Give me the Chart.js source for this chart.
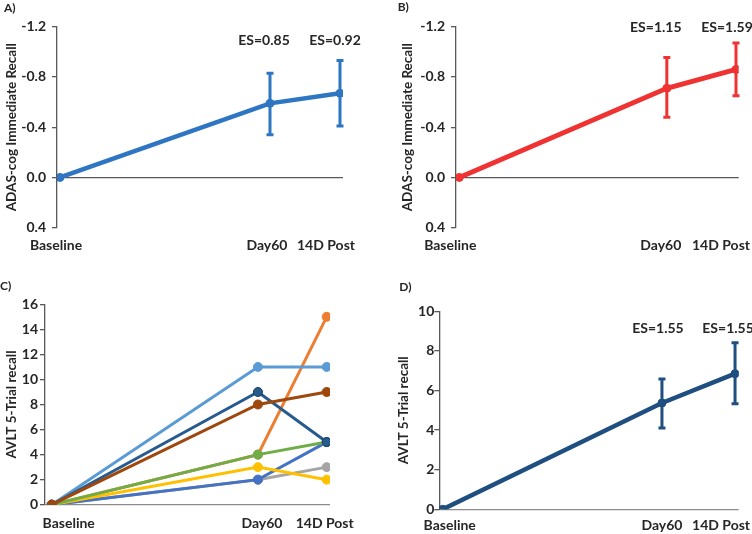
<!DOCTYPE html>
<html><head><meta charset="utf-8">
<script src="https://cdn.jsdelivr.net/npm/chart.js@4"></script>
<style>
html,body{margin:0;padding:0;background:#fff;width:752px;height:534px;overflow:hidden}
canvas{position:absolute}
</style></head><body>
<canvas id="pa" width="376" height="267" style="left:0;top:0"></canvas>
<canvas id="pb" width="376" height="267" style="left:376px;top:0"></canvas>
<canvas id="pc" width="376" height="267" style="left:0;top:267px"></canvas>
<canvas id="pd" width="376" height="267" style="left:376px;top:267px"></canvas>
<script>
// ---- data ----
const xLabels = ['Baseline', 'Day60', '14D Post'];
const xDays = [0, 60, 80];

const adasTicks = [-1.2, -0.8, -0.4, 0, 0.4];
const aMean = [0, -0.59, -0.67];
const aLow  = [0, -0.34, -0.41];
const aHigh = [0, -0.83, -0.93];
const aES   = ['', 'ES=0.85', 'ES=0.92'];

const bMean = [0, -0.71, -0.86];
const bLow  = [0, -0.48, -0.65];
const bHigh = [0, -0.955, -1.07];
const bES   = ['', 'ES=1.15', 'ES=1.59'];

const cTicks = [0, 2, 4, 6, 8, 10, 12, 14, 16];
const cLightBlue = [0, 11, 11];
const cOrange    = [0, 4, 15];
const cDarkBlue  = [0, 9, 5];
const cBrown     = [0, 8, 9];
const cGreen     = [0, 4, 5];
const cYellow    = [0, 3, 2];
const cGray      = [0, 2, 3];
const cBlue      = [0, 2, 5];

const dTicks = [0, 2, 4, 6, 8, 10];
const dMean = [0, 5.37, 6.85];
const dLow  = [0, 4.1, 5.33];
const dHigh = [0, 6.58, 8.41];
const dES   = ['', 'ES=1.55', 'ES=1.55'];

// ---- drawing ----
const FONT = 'Lato, "Open Sans", sans-serif';
const TXT = '#262626';

function pts(vals) { return vals.map((v, i) => ({x: xDays[i], y: v})); }

function overlay(cfg) {
  return {
    id: 'overlay',
    afterDatasetsDraw(chart) {
      if (!cfg.err) return;
      const ctx = chart.ctx, xs = chart.scales.x, ys = chart.scales.y;
      ctx.save();
      ctx.strokeStyle = cfg.err.color; ctx.lineWidth = 3; ctx.lineCap = 'butt';
      cfg.err.low.forEach((lo, i) => {
        const hi = cfg.err.high[i];
        if (lo === hi) return;
        const px = xs.getPixelForValue(xDays[i]);
        const y1 = ys.getPixelForValue(lo), y2 = ys.getPixelForValue(hi);
        ctx.beginPath(); ctx.moveTo(px, y1); ctx.lineTo(px, y2);
        ctx.moveTo(px - 3.5, y1); ctx.lineTo(px + 3.5, y1);
        ctx.moveTo(px - 3.5, y2); ctx.lineTo(px + 3.5, y2);
        ctx.stroke();
      });
      ctx.restore();
    },
    afterDraw(chart) {
      const ctx = chart.ctx, xs = chart.scales.x, ys = chart.scales.y;
      ctx.save();
      ctx.fillStyle = TXT;
      ctx.textBaseline = 'middle';
      ctx.textAlign = 'left';
      ctx.font = 'bold 12px ' + FONT;
      ctx.fillText(cfg.letter, cfg.letterX, cfg.letterY);
      ctx.font = 'bold 14px ' + FONT;
      ctx.textAlign = 'center';
      xLabels.forEach((lab, i) => {
        ctx.fillText(lab, xs.getPixelForValue(xDays[i]) + cfg.labelDx[i], cfg.labelY);
      });
      if (cfg.es) {
        cfg.es.texts.forEach((t, i) => {
          if (!t) return;
          ctx.fillText(t, xs.getPixelForValue(xDays[i]) + cfg.es.dx[i], ys.getPixelForValue(cfg.es.y));
        });
      }
      ctx.restore();
    }
  };
}

function makePanel(id, cfg) {
  new Chart(document.getElementById(id), {
    type: 'line',
    data: {
      datasets: cfg.series.map(s => ({
        data: pts(s.data),
        borderColor: s.color,
        backgroundColor: s.color,
        pointBorderColor: s.pointBorder || s.color,
        pointBackgroundColor: s.color,
        borderWidth: s.width,
        pointRadius: s.radius,
        pointBorderWidth: 1,
        tension: 0
      }))
    },
    options: {
      responsive: false,
      animation: false,
      events: [],
      layout: {padding: {left: 0, top: cfg.T, right: cfg.R, bottom: cfg.B}},
      plugins: {legend: {display: false}, tooltip: {enabled: false}},
      scales: {
        x: {type: 'linear', display: false, min: cfg.xMin, max: cfg.xMax},
        y: {
          type: 'linear',
          min: cfg.yMin, max: cfg.yMax,
          reverse: !!cfg.reverse,
          afterBuildTicks: sc => { sc.ticks = cfg.yTicks.map(v => ({value: v})); },
          afterFit: sc => { sc.width = cfg.L; },
          border: {display: true, color: '#595959', width: 1.3},
          grid: {
            drawOnChartArea: true,
            color: c => (c.tick && c.tick.value === 0) ? cfg.zeroColor : 'rgba(0,0,0,0)',
            lineWidth: 1.3,
            tickColor: '#595959',
            tickLength: 5
          },
          ticks: {
            color: TXT,
            padding: cfg.tickPad,
            font: {family: FONT, size: 14, weight: 'bold'},
            callback: v => cfg.fmt(v)
          },
          title: {
            display: true,
            text: cfg.yTitle,
            color: TXT,
            font: {family: FONT, size: 13.5, weight: 'bold'},
            padding: {top: cfg.titlePad, bottom: 0}
          }
        }
      }
    },
    plugins: [overlay(cfg)]
  });
}

const adasFmt = v => (Math.abs(v) < 1e-9 ? 0 : v).toFixed(1);
const intFmt = v => String(v);

makePanel('pa', {
  letter: 'A)', letterX: 4, letterY: 8,
  L: 57, T: 26.7, R: 33, B: 39.3, xMin: -0.857, xMax: 80.86,
  yMin: -1.2, yMax: 0.4, reverse: true, yTicks: adasTicks, fmt: adasFmt,
  yTitle: 'ADAS-cog Immediate Recall', titlePad: 4, tickPad: 6,
  zeroColor: '#595959',
  series: [{data: aMean, color: '#2E75C2', width: 4.5, radius: 4}],
  err: {low: aLow, high: aHigh, color: '#2E75C2'},
  es: {texts: aES, y: -1.09, dx: [0, -6, -5]},
  labelDx: [-4, -3, -14], labelY: 245
});

makePanel('pb', {
  letter: 'B)', letterX: 21.7, letterY: 7,
  L: 80, T: 26.7, R: 13.3, B: 39.3, xMin: -0.95, xMax: 80.78,
  yMin: -1.2, yMax: 0.4, reverse: true, yTicks: adasTicks, fmt: adasFmt,
  yTitle: 'ADAS-cog Immediate Recall', titlePad: 24, tickPad: 6,
  zeroColor: '#595959',
  series: [{data: bMean, color: '#EF3333', width: 5, radius: 4}],
  err: {low: bLow, high: bHigh, color: '#EF3333'},
  es: {texts: bES, y: -1.19, dx: [0, -11, -9]},
  labelDx: [-9, -6, -15], labelY: 245
});

makePanel('pc', {
  letter: 'C)', letterX: 0, letterY: 19,
  L: 45, T: 37.3, R: 46, B: 29.3, xMin: -1.95, xMax: 80.96,
  yMin: 0, yMax: 16, reverse: false, yTicks: cTicks, fmt: intFmt,
  yTitle: 'AVLT 5-Trial recall', titlePad: 4, tickPad: 2,
  zeroColor: '#8C8C8C',
  series: [
    {data: cBrown, color: '#9E480E', width: 3, radius: 4.5},
    {data: cDarkBlue, color: '#265B8E', width: 3, radius: 4.5, pointBorder: '#1C3A5C'},
    {data: cGreen, color: '#70AD47', width: 3, radius: 4.5},
    {data: cLightBlue, color: '#5B9BD5', width: 3, radius: 4.5},
    {data: cYellow, color: '#FFC000', width: 3, radius: 4.5},
    {data: cBlue, color: '#4472C4', width: 3, radius: 4.5},
    {data: cGray, color: '#A5A5A5', width: 3, radius: 4.5},
    {data: cOrange, color: '#ED7D31', width: 3, radius: 4.5}
  ],
  err: null, es: null,
  labelDx: [17, 4, -2], labelY: 256.7
});

makePanel('pd', {
  letter: 'D)', letterX: 23.3, letterY: 20.5,
  L: 63.3, T: 44.3, R: 13.3, B: 24.7, xMin: -0.93, xMax: 81.0,
  yMin: 0, yMax: 10, reverse: false, yTicks: dTicks, fmt: intFmt,
  yTitle: 'AVLT 5-Trial recall', titlePad: 20, tickPad: 0,
  zeroColor: '#8C8C8C',
  series: [{data: dMean, color: '#1F4E80', width: 4.5, radius: 4}],
  err: {low: dLow, high: dHigh, color: '#1F4E80'},
  es: {texts: dES, y: 9.12, dx: [0, -4, -7]},
  labelDx: [7, 0, -14], labelY: 258.3
});
</script>
</body></html>
